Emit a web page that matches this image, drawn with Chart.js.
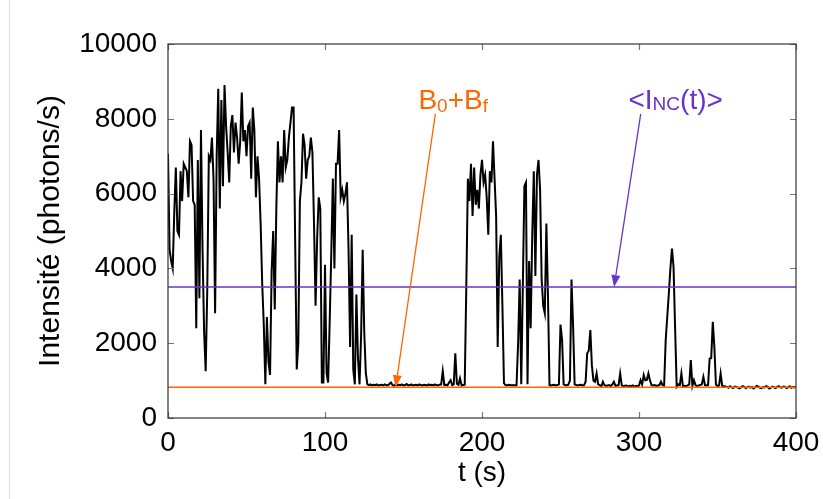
<!DOCTYPE html>
<html>
<head>
<meta charset="utf-8">
<script src="https://cdn.jsdelivr.net/npm/chart.js@4"></script>
<style>
  html, body { margin: 0; padding: 0; background: #fff; }
  #c { display: block; }
</style>
</head>
<body>
<canvas id="c" width="823" height="499"></canvas>
<script>
// intensity trace, one sample per second (photons/s)
const intensity = [
  7070, 4500, 4200, 4000, 5500, 6700, 5000, 4900, 6600, 5800,
  6800, 6700, 6600, 5900, 7400, 7300, 5800, 5700, 2400, 6900,
  3200, 7700, 4500, 2300, 1250, 3400, 7000, 6900, 7500, 6400,
  2800, 7000, 8800, 5600, 8500, 6200, 8900, 7800, 7100, 6300,
  7800, 8100, 7100, 7900, 7500, 6800, 7400, 8700, 7400, 7700,
  7000, 7800, 7900, 6400, 8300, 7700, 5900, 7000, 6400, 5200,
  3600, 2500, 900, 2700, 1500, 1150, 3900, 5000, 2900, 5600,
  7400, 6300, 7000, 6300, 7700, 6700, 6900, 7500, 7900, 8300,
  8300, 4700, 1300, 2000, 5800, 6300, 7600, 7300, 6400, 6900,
  7000, 7500, 7100, 5200, 3000, 4800, 5900, 5600, 950, 950,
  4100, 1200, 950, 2600, 4400, 6400, 4000, 6800, 6800, 7700,
  5900, 6100, 5800, 6000, 6300, 4500, 1900, 4900, 1300, 900,
  3300, 1600, 900, 2200, 4500, 2300, 1200, 900, 880, 900,
  870, 890, 880, 900, 870, 880, 890, 870, 900, 880,
  870, 910, 950, 880, 860, 900, 870, 890, 880, 900,
  870, 880, 910, 870, 880, 900, 870, 880, 890, 870,
  900, 880, 870, 890, 880, 870, 900, 880, 890, 870,
  900, 880, 870, 890, 900, 1250, 880, 890, 870, 950,
  1010, 880, 900, 1730, 920, 890, 1060, 870, 880, 890,
  3500, 6400, 5800, 6800, 5400, 6700, 5700, 6100, 5600, 6500,
  6900, 6300, 6500, 5900, 4900, 6600, 6300, 7400, 6400, 5400,
  1900, 4300, 4900, 3000, 930, 880, 870, 890, 880, 870,
  880, 870, 880, 2000, 3700, 900, 3500, 6200, 6300, 900,
  4200, 2400, 4900, 6600, 3800, 6500, 6900, 6100, 3700, 3000,
  2800, 5200, 3300, 880, 870, 880, 890, 870, 880, 900,
  2500, 2100, 900, 880, 870, 890, 1000, 3700, 2500, 900,
  880, 870, 880, 890, 870, 880, 970, 1730, 1800, 2350,
  1400, 1000, 970, 1190, 900, 880, 840, 970, 880, 860,
  870, 880, 850, 900, 970, 860, 870, 880, 1190, 880,
  850, 860, 870, 840, 860, 850, 870, 840, 860, 850,
  870, 1010, 900, 1150, 1010, 1020, 1190, 1000, 880, 870,
  880, 860, 870, 880, 970, 880, 870, 2080, 2700, 3330,
  4000, 4530, 4040, 2400, 840, 900, 880, 1190, 840, 860,
  850, 870, 900, 1550, 860, 1010, 880, 850, 870, 880,
  900, 1100, 880, 870, 880, 1590, 1600, 2570, 1900, 900,
  850, 870, 1190, 860, 850, 840, 830, 810, 850, 820,
  800, 840, 830, 810, 790, 820, 850, 830, 800, 820,
  840, 810, 830, 790, 820, 860, 840, 810, 800, 830,
  820, 850, 830, 790, 810, 840, 820, 800, 830, 850,
  820, 810, 840, 830, 800, 820, 850, 810, 830, 820,
  840
];
const times = intensity.map((_, i) => i);

const bgLevel = 820;     // B0 + Bf
const meanLevel = 3500;  // <I_NC(t)>
const tRange = [0, 400];
const xTicks = [0, 100, 200, 300, 400];
const yTicks = [0, 2000, 4000, 6000, 8000, 10000];

const ORANGE = "#ff6600";
const PURPLE = "#6633cc";
const FONT = "'Liberation Sans', Arial, sans-serif";

// annotations in data coordinates
const annotations = [
  { parts: [["B", 0], ["0", 1], ["+B", 0], ["f", 1]], at: [159.5, 8260], subDrop: 3,
    arrowFrom: [170.3, 8130], arrowTo: [145, bgLevel], color: ORANGE },
  { parts: [["<I", 0], ["NC", 1], ["(t)>", 0]], at: [293.3, 8260], subDrop: 1,
    arrowFrom: [301.1, 8130], arrowTo: [284.1, meanLevel], color: PURPLE }
];

const framePlugin = {
  id: "frame",
  afterDatasetsDraw(chart) {
    const { ctx, chartArea: a, scales: { x, y } } = chart;
    ctx.save();
    // faint figure border on the left
    ctx.strokeStyle = "#dcdcdc";
    ctx.lineWidth = 1;
    ctx.beginPath();
    ctx.moveTo(9.5, 0);
    ctx.lineTo(9.5, chart.height);
    ctx.stroke();

    // inward ticks on all sides
    ctx.strokeStyle = "#777";
    ctx.lineWidth = 1.2;
    ctx.beginPath();
    xTicks.forEach(v => {
      const px = Math.round(x.getPixelForValue(v)) + 0.5;
      ctx.moveTo(px, a.bottom); ctx.lineTo(px, a.bottom - 6);
      ctx.moveTo(px, a.top); ctx.lineTo(px, a.top + 6);
    });
    yTicks.forEach(v => {
      const py = Math.round(y.getPixelForValue(v)) + 0.5;
      ctx.moveTo(a.left, py); ctx.lineTo(a.left + 6, py);
      ctx.moveTo(a.right, py); ctx.lineTo(a.right - 6, py);
    });
    ctx.stroke();

    // axes box
    ctx.strokeStyle = "#333";
    ctx.lineWidth = 1.2;
    ctx.strokeRect(a.left, a.top, a.right - a.left, a.bottom - a.top);

    // annotations: label + arrow
    annotations.forEach(an => {
      ctx.fillStyle = an.color;
      ctx.strokeStyle = an.color;
      ctx.textBaseline = "alphabetic";
      ctx.textAlign = "left";
      let tx = x.getPixelForValue(an.at[0]);
      const ty = y.getPixelForValue(an.at[1]);
      an.parts.forEach(([txt, sub]) => {
        ctx.font = (sub ? "19px " : "28px ") + FONT;
        ctx.fillText(txt, tx, ty + (sub ? an.subDrop : 0));
        tx += ctx.measureText(txt).width;
      });

      const x0 = x.getPixelForValue(an.arrowFrom[0]);
      const y0 = y.getPixelForValue(an.arrowFrom[1]);
      const x1 = x.getPixelForValue(an.arrowTo[0]);
      const y1 = y.getPixelForValue(an.arrowTo[1]);
      const ang = Math.atan2(y1 - y0, x1 - x0);
      const len = 12, half = 4.5;
      const bx = x1 - len * Math.cos(ang), by = y1 - len * Math.sin(ang);
      ctx.lineWidth = 1.3;
      ctx.beginPath();
      ctx.moveTo(x0, y0);
      ctx.lineTo(bx, by);
      ctx.stroke();
      ctx.beginPath();
      ctx.moveTo(x1, y1);
      ctx.lineTo(bx + half * Math.sin(ang), by - half * Math.cos(ang));
      ctx.lineTo(bx - half * Math.sin(ang), by + half * Math.cos(ang));
      ctx.closePath();
      ctx.fill();
    });
    ctx.restore();
  }
};

new Chart(document.getElementById("c"), {
  type: "line",
  data: {
    datasets: [
      {
        label: "B0+Bf",
        data: tRange.map(t => ({ x: t, y: bgLevel })),
        borderColor: ORANGE,
        borderWidth: 1.5,
        pointRadius: 0,
        order: 1
      },
      {
        label: "<I_NC(t)>",
        data: tRange.map(t => ({ x: t, y: meanLevel })),
        borderColor: PURPLE,
        borderWidth: 1.5,
        pointRadius: 0,
        order: 0
      },
      {
        label: "I(t)",
        data: times.map((t, i) => ({ x: t, y: intensity[i] })),
        borderColor: "#000",
        borderWidth: 2,
        pointRadius: 0,
        tension: 0,
        order: 2
      }
    ]
  },
  options: {
    responsive: false,
    animation: false,
    devicePixelRatio: 1,
    layout: { padding: { top: 44, right: 27, left: 0, bottom: 0 } },
    plugins: { legend: { display: false }, tooltip: { enabled: false } },
    scales: {
      x: {
        type: "linear",
        min: tRange[0],
        max: tRange[1],
        afterFit: s => { s.height = 81; s.paddingLeft = 0; s.paddingRight = 0; },
        afterBuildTicks: s => { s.ticks = xTicks.map(v => ({ value: v })); },
        grid: { display: false, drawTicks: false },
        border: { display: false },
        ticks: { color: "#000", padding: 8, font: { family: FONT, size: 28 }, maxRotation: 0,
                 callback: v => String(v) },
        title: { display: true, text: "t (s)", color: "#000", padding: { bottom: 9, top: 0 },
                 font: { family: FONT, size: 28 } }
      },
      y: {
        min: 0,
        max: 10000,
        afterFit: s => { s.width = 168; s.paddingTop = 0; s.paddingBottom = 0; },
        afterBuildTicks: s => { s.ticks = yTicks.map(v => ({ value: v })); },
        grid: { display: false, drawTicks: false },
        border: { display: false },
        ticks: { color: "#000", padding: 11, font: { family: FONT, size: 28 },
                 callback: v => String(v) },
        title: { display: true, text: "Intensité (photons/s)", color: "#000", padding: { top: 33, bottom: 0 },
                 font: { family: FONT, size: 30 } }
      }
    }
  },
  plugins: [framePlugin]
});
</script>
</body>
</html>
